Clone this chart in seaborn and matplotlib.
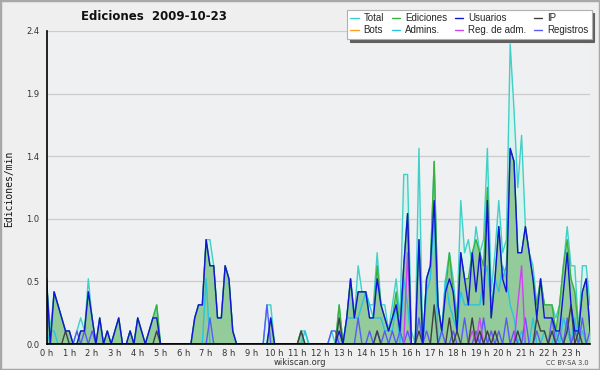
import numpy as np
import pandas as pd
import matplotlib
matplotlib.use("Agg")
import matplotlib.pyplot as plt
from matplotlib.lines import Line2D
from matplotlib.patches import Rectangle
import seaborn as sns

# acciones por intervalo de 10 minutos, una fila = una hora (0 h .. 23 h)
total = [
    5, 1, 4, 3, 2, 1,   1, 0, 1, 2, 1, 5,   2, 0, 2, 0, 1, 0,   1, 2, 0, 0, 1, 0,
    2, 1, 0, 1, 2, 3,   0, 0, 0, 0, 0, 0,   0, 0, 0, 2, 3, 3,   8, 8, 6, 2, 2, 6,
    5, 1, 0, 0, 0, 0,   0, 0, 0, 0, 3, 3,   0, 0, 0, 0, 0, 0,   0, 1, 1, 0, 0, 0,
    0, 0, 0, 1, 0, 3,   0, 2, 5, 2, 6, 4,   4, 3, 3, 7, 3, 3,   1, 3, 5, 2, 13, 13,
    1, 0, 15, 0, 5, 6,  14, 3, 1, 5, 7, 5,  2, 11, 7, 8, 6, 9,  7, 8, 15, 4, 7, 11,
    7, 8, 23, 18, 12, 16,  9, 7, 6, 3, 5, 3,  3, 3, 2, 3, 6, 9,  6, 6, 1, 6, 6, 3,
]
ediciones = [
    5, 0, 4, 3, 2, 1,   1, 0, 0, 1, 1, 4,   2, 0, 2, 0, 1, 0,   1, 2, 0, 0, 1, 0,
    2, 1, 0, 1, 2, 3,   0, 0, 0, 0, 0, 0,   0, 0, 0, 2, 3, 3,   8, 6, 6, 2, 2, 6,
    5, 1, 0, 0, 0, 0,   0, 0, 0, 0, 0, 2,   0, 0, 0, 0, 0, 0,   0, 1, 0, 0, 0, 0,
    0, 0, 0, 0, 0, 3,   0, 2, 5, 2, 4, 4,   4, 2, 2, 6, 3, 2,   1, 2, 4, 1, 6, 10,
    0, 0, 8, 0, 5, 6,   14, 3, 1, 4, 7, 4,  2, 7, 5, 5, 7, 8,   7, 6, 12, 2, 5, 9,
    5, 6, 15, 14, 7, 7,  9, 7, 5, 3, 5, 3,  3, 3, 1, 3, 6, 8,   5, 4, 1, 4, 5, 1,
]
usuarios = [
    5, 0, 4, 3, 2, 1,   1, 0, 0, 1, 1, 4,   2, 0, 2, 0, 1, 0,   1, 2, 0, 0, 1, 0,
    2, 1, 0, 1, 2, 2,   0, 0, 0, 0, 0, 0,   0, 0, 0, 2, 3, 3,   8, 6, 6, 2, 2, 6,
    5, 1, 0, 0, 0, 0,   0, 0, 0, 0, 0, 2,   0, 0, 0, 0, 0, 0,   0, 0, 0, 0, 0, 0,
    0, 0, 0, 0, 0, 1,   0, 2, 5, 2, 4, 4,   4, 2, 2, 5, 3, 2,   1, 2, 3, 1, 6, 10,
    0, 0, 8, 0, 5, 6,   11, 3, 1, 4, 5, 4,  1, 7, 5, 3, 7, 4,   7, 3, 11, 2, 5, 9,
    5, 4, 15, 14, 7, 7,  9, 7, 5, 2, 5, 2,  2, 2, 1, 1, 4, 7,   3, 1, 1, 4, 5, 1,
]
ip = [
    0, 0, 0, 0, 0, 1,   0, 0, 0, 0, 0, 0,   0, 0, 0, 0, 0, 0,   0, 0, 0, 0, 0, 0,
    0, 0, 0, 0, 0, 1,   0, 0, 0, 0, 0, 0,   0, 0, 0, 0, 0, 0,   0, 0, 0, 0, 0, 0,
    0, 0, 0, 0, 0, 0,   0, 0, 0, 0, 0, 0,   0, 0, 0, 0, 0, 0,   0, 1, 0, 0, 0, 0,
    0, 0, 0, 0, 0, 2,   0, 0, 0, 0, 0, 0,   0, 0, 0, 1, 0, 0,   0, 0, 0, 0, 0, 0,
    0, 0, 1, 0, 0, 0,   3, 0, 0, 0, 2, 0,   1, 0, 0, 0, 2, 0,   1, 0, 1, 0, 1, 0,
    0, 0, 0, 0, 1, 0,   0, 0, 0, 2, 1, 1,   0, 1, 0, 0, 0, 1,   3, 0, 1, 0, 0, 0,
]
bots = [0] * 144
admins = [
    0, 1, 1, 0, 0, 0,   0, 0, 0, 0, 0, 0,   0, 0, 0, 0, 0, 0,   0, 0, 0, 0, 0, 0,
    0, 0, 0, 0, 0, 0,   0, 0, 0, 0, 0, 0,   0, 0, 0, 0, 0, 0,   5, 0, 0, 0, 0, 0,
    0, 0, 0, 0, 0, 0,   0, 0, 0, 0, 0, 0,   0, 0, 0, 0, 0, 0,   0, 0, 1, 0, 0, 0,
    0, 0, 0, 0, 0, 0,   0, 2, 2, 2, 2, 3,   4, 3, 2, 2, 2, 1,   1, 1, 3, 0, 5, 3,
    0, 0, 0, 0, 4, 5,   10, 0, 1, 5, 3, 2,  1, 4, 3, 3, 3, 3,   3, 5, 6, 3, 5, 4,
    6, 5, 3, 2, 0, 1,   0, 0, 2, 0, 0, 1,   0, 0, 1, 0, 2, 1,   0, 2, 0, 1, 0, 0,
]
reg_adm = [
    0, 0, 0, 0, 0, 0,   0, 0, 0, 0, 0, 0,   0, 0, 0, 0, 0, 0,   0, 0, 0, 0, 0, 0,
    0, 0, 0, 0, 0, 0,   0, 0, 0, 0, 0, 0,   0, 0, 0, 0, 0, 0,   0, 0, 0, 0, 0, 0,
    0, 0, 0, 0, 0, 0,   0, 0, 0, 0, 0, 0,   0, 0, 0, 0, 0, 0,   0, 0, 0, 0, 0, 0,
    0, 0, 0, 0, 0, 0,   0, 0, 0, 0, 0, 0,   0, 0, 0, 0, 0, 0,   0, 0, 0, 0, 0, 7,
    0, 0, 0, 0, 0, 0,   0, 0, 0, 0, 0, 0,   0, 0, 0, 0, 1, 0,   2, 0, 0, 0, 0, 0,
    0, 0, 0, 0, 3, 6,   0, 0, 0, 0, 0, 0,   0, 0, 0, 0, 0, 0,   0, 0, 0, 0, 0, 0,
]
registros = [
    0, 0, 0, 0, 0, 0,   0, 0, 1, 0, 1, 0,   1, 0, 0, 0, 0, 0,   0, 0, 0, 0, 0, 0,
    0, 0, 0, 0, 0, 0,   0, 0, 0, 0, 0, 0,   0, 0, 0, 0, 0, 0,   0, 2, 0, 0, 0, 0,
    0, 0, 0, 0, 0, 0,   0, 0, 0, 0, 3, 0,   0, 0, 0, 0, 0, 0,   0, 0, 0, 0, 0, 0,
    0, 0, 0, 1, 1, 0,   0, 0, 0, 0, 2, 0,   0, 1, 0, 1, 0, 1,   0, 1, 0, 1, 0, 1,
    0, 0, 2, 0, 1, 0,   0, 0, 1, 0, 0, 1,   0, 0, 2, 0, 0, 1,   0, 2, 0, 1, 0, 1,
    0, 2, 0, 1, 0, 0,   2, 0, 0, 1, 0, 0,   0, 2, 0, 1, 0, 2,   0, 1, 0, 2, 0, 1,
]

horas_labels = [f"{h} h" for h in range(24)]
yticks = [0, 0.48, 0.96, 1.44, 1.92, 2.4]
ytick_labels = ["0.0", "0.5", "1.0", "1.4", "1.9", "2.4"]

series = {
    "Total": total, "Ediciones": ediciones, "Bots": bots, "Admins.": admins,
    "Registros": registros, "Reg. de adm.": reg_adm, "IP": ip, "Usuarios": usuarios,
}
colores = {
    "Total": "#40d0c8", "Ediciones": "#3cb03c", "Usuarios": "#1414d8",
    "IP": "#404040", "Bots": "#ffa020", "Admins.": "#28c4e0",
    "Reg. de adm.": "#cc44ee", "Registros": "#5a5af8",
}

horas = np.arange(144) / 6.0  # un punto cada 10 minutos
df = pd.concat(
    [pd.DataFrame({"hora": horas, "valor": np.array(v) / 10.0, "serie": k})
     for k, v in series.items()],
    ignore_index=True,
)

sns.set_style("white")
plt.rcParams["font.family"] = ["DejaVu Sans"]

fig = plt.figure(figsize=(6, 3.7), dpi=100, facecolor="#efefef")
ax = fig.add_axes([46.5 / 600, 26 / 370, (590 - 46.5) / 600, (344 - 31) / 370])
ax.set_facecolor("#eef0f2")

ax.fill_between(horas, np.array(total) / 10.0, color="#d8f2ee", lw=0, zorder=1)
ax.fill_between(horas, np.array(ediciones) / 10.0, color="#94cb9a", lw=0, zorder=2)

sns.lineplot(data=df, x="hora", y="valor", hue="serie", hue_order=list(series),
             palette=colores, linewidth=1, legend=False, errorbar=None,
             ax=ax, zorder=3)

ax.set_xlim(0, 143 / 6)
ax.set_ylim(0, 2.4)
ax.set_xlabel("")
ax.set_ylabel("")

ax.set_yticks(yticks)
ax.set_yticklabels(ytick_labels)
ax.set_yticks(np.arange(0, 2.41, 0.12), minor=True)
ax.set_xticks(range(24))
ax.set_xticklabels(horas_labels)
ax.set_xticks(horas, minor=True)
ax.tick_params(axis="y", which="major", labelsize=6, labelcolor="#333333",
               length=4, width=0.8, pad=1, direction="out")
ax.tick_params(axis="x", which="major", labelsize=6, labelcolor="#333333",
               length=3, width=0.8, pad=0.5, direction="out")
ax.tick_params(axis="both", which="minor", length=2.5, width=0.8, direction="out")

ax.yaxis.grid(True, color="#cccccc", lw=0.9)
ax.set_axisbelow(True)
for s in ["top", "right"]:
    ax.spines[s].set_visible(False)
for s in ["left", "bottom"]:
    ax.spines[s].set_color("black")
    ax.spines[s].set_linewidth(1.2)
    ax.spines[s].set_zorder(5)

fig.text(154 / 600, 1 - 16.5 / 370, "Ediciones  2009-10-23", ha="center", va="center",
         fontsize=8.5, fontweight="bold", color="#111111")
fig.text(9.5 / 600, 1 - 188.5 / 370, "Ediciones/min", rotation=90, ha="center",
         va="center", fontsize=7, family="DejaVu Sans Mono", color="#111111")
fig.text(300 / 600, 1 - 362.5 / 370, "wikiscan.org", ha="center", va="center",
         fontsize=6, color="#333333")
fig.text(589 / 600, 1 - 363 / 370, "CC BY-SA 3.0", ha="right", va="center",
         fontsize=4.8, color="#444444")

orden = ["Total", "Bots", "Ediciones", "Admins.", "Usuarios", "Reg. de adm.",
         "IP", "Registros"]
handles = [Line2D([], [], color=colores[k], lw=1) for k in orden]
leg = fig.legend(handles, orden, loc="upper left", bbox_to_anchor=(347 / 600, 1 - 10 / 370),
                 ncol=4, frameon=True, fancybox=False,
                 prop={"family": "Liberation Sans", "size": 7},
                 shadow={"color": "#606060", "alpha": 1},
                 handlelength=0.9, handletextpad=0.45, columnspacing=0.8,
                 labelspacing=0.2, borderpad=0.35, borderaxespad=0)
leg.get_frame().set_edgecolor("#b0b0b0")
leg.get_frame().set_linewidth(0.8)

fig.patches.append(Rectangle((0, 0), 1, 1, transform=fig.transFigure, fill=False,
                             edgecolor="#a8a8a8", lw=2.5))

fig.savefig("out.png", dpi=100, facecolor=fig.get_facecolor())
